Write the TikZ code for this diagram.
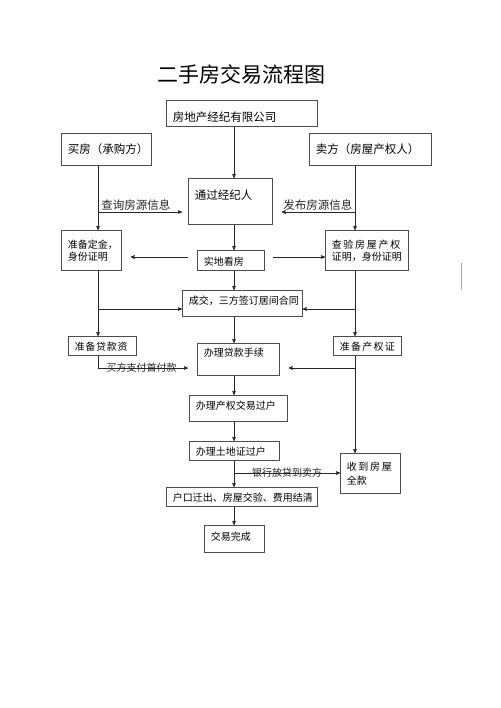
\documentclass[tikz,border=0pt]{standalone}
\usepackage{fontspec}
\setmainfont{Noto Sans CJK SC}
\usetikzlibrary{arrows}

\begin{document}
\begin{tikzpicture}[x=1pt, y=-1pt, >=stealth', line width=0.6pt,
  box/.style={draw=black!70, anchor=north west, inner xsep=6.5pt, inner ysep=0pt, align=left, font=\fontsize{10}{12}\selectfont},
  bigtext/.style={font=\fontsize{11.5}{13.5}\selectfont},
  flow/.style={->, black!85},
  note/.style={inner sep=1pt, font=\fontsize{10}{12}\selectfont}]
\useasboundingbox (0,0) rectangle (500,708);
\coordinate (spine) at (234,0);
\coordinate (lcol) at (98,0);
\coordinate (rcol) at (355,0);
\coordinate (askrow) at (0,212);
\coordinate (lookrow) at (0,257);
\coordinate (dealrow) at (0,309);
\coordinate (payrow) at (0,368);
\coordinate (bankrow) at (0,473);

\node[font=\fontsize{21}{24}\selectfont] (title) at (241,74) {二手房交易流程图};
\node[box, bigtext, text width=138pt, text height=21.4pt, text depth=4.6pt] (agency) at (166,100) {房地产经纪有限公司};
\node[box, bigtext, text width=77pt, text height=20.4pt, text depth=11.6pt] (buyer) at (61,133) {买房（承购方）};
\node[box, bigtext, text width=109pt, text height=20.4pt, text depth=11.6pt] (seller) at (309,133) {卖方（房屋产权人）};
\node[box, bigtext, text width=71pt, text height=21.4pt, text depth=24.6pt] (broker) at (188,178) {通过经纪人};
\node[box, text width=47pt, minimum height=40pt] (deposit) at (61,230) {准备定金，\\身份证明};
\node[box, text width=70pt, minimum height=40pt] (check) at (325,230) {{\addfontfeature{LetterSpace=17}查验房屋产权}\\证明，身份证明};
\node[box, text width=54pt, text height=14.8pt, text depth=5.2pt] (view) at (197,250) {实地看房};
\node[box, text width=107pt, text height=13.8pt, text depth=12.2pt] (deal) at (182,290) {成交，三方签订居间合同};
\node[box, text width=55pt, text height=13.8pt, text depth=5.2pt] (loanprep) at (68,336) {{\addfontfeature{LetterSpace=7}准备贷款资}};
\node[box, text width=55pt, text height=13.8pt, text depth=5.2pt] (certprep) at (333,336) {{\addfontfeature{LetterSpace=13}准备产权证}};
\node[box, text width=69pt, text height=12.8pt, text depth=19.2pt] (loan) at (197,343) {办理贷款手续};
\node[box, text width=85pt, text height=13.8pt, text depth=12.2pt] (transfer) at (189,395) {办理产权交易过户};
\node[box, text width=77pt, text height=13.8pt, text depth=5.2pt] (land) at (189,441) {办理土地证过户};
\node[box, text width=47pt, minimum height=40pt] (fullpay) at (340,453) {{\addfontfeature{LetterSpace=17}收到房屋}\\[2pt]全款};
\node[box, text width=138pt, text height=13.8pt, text depth=5.2pt] (settle) at (166,487) {户口迁出、房屋交验、费用结清};
\node[box, text width=47pt, text height=14.8pt, text depth=12.2pt] (done) at (204,525) {交易完成};

\draw[flow] (agency.south -| spine) -- (broker.north -| spine);
\draw[flow] (buyer.south -| lcol) -- (deposit.north -| lcol);
\draw[flow] (seller.south -| rcol) -- (check.north -| rcol);
\draw[flow, shorten >=6pt] (lcol |- askrow) -- (broker.west |- askrow) node[note, bigtext, pos=0.42, above] {查询房源信息};
\draw[flow, shorten >=9pt] (rcol |- askrow) -- (broker.east |- askrow) node[note, bigtext, pos=0.45, above] {发布房源信息};
\draw[flow] (broker.south -| spine) -- (view.north -| spine);
\draw[flow, shorten <=9pt, shorten >=9pt] (view.west |- lookrow) -- (deposit.east |- lookrow);
\draw[flow, shorten <=8pt] (view.east |- lookrow) -- (check.west |- lookrow);
\draw[flow] (view.south -| spine) -- (deal.north -| spine);
\draw[flow] (deposit.south -| lcol) -- (loanprep.north -| lcol);
\draw[flow] (lcol |- dealrow) -- (deal.west |- dealrow);
\draw[flow] (check.south -| rcol) -- (certprep.north -| rcol);
\draw[flow] (rcol |- dealrow) -- (deal.east |- dealrow);
\draw[flow] (deal.south -| spine) -- (loan.north -| spine);
\draw[flow, shorten >=9pt] (loanprep.south -| lcol) |- (loan.west |- payrow) node[note, pos=0.72] {买方支付首付款};
\draw[flow] (certprep.south -| rcol) -- (fullpay.north -| rcol);
\draw[flow, shorten >=9pt] (rcol |- payrow) -- (loan.east |- payrow);
\draw[flow] (loan.south -| spine) -- (transfer.north -| spine);
\draw[flow] (transfer.south -| spine) -- (land.north -| spine);
\draw[flow] (land.south -| spine) -- (settle.north -| spine);
\draw[flow] (spine |- bankrow) -- (fullpay.west |- bankrow) node[note, midway] {银行放贷到卖方};
\draw[flow] (settle.south -| spine) -- (done.north -| spine);
% scan mark at the right edge
\draw[black!35] (461,263) -- (461,290);
\end{tikzpicture}
\end{document}
